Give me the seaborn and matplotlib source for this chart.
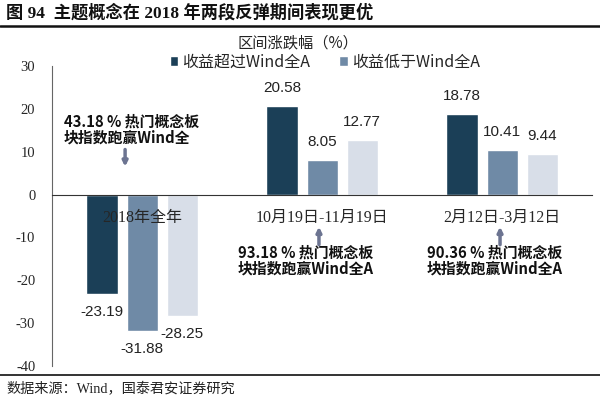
import matplotlib

matplotlib.use("Agg")
import matplotlib.pyplot as plt
import pandas as pd
import seaborn as sns
from matplotlib.lines import Line2D

periods = ["2018年全年", "10月19日-11月19日", "2月12日-3月12日"]
series = ["收益超过Wind全A", "收益低于Wind全A", "Wind全A"]
beat_values = [-23.19, 20.58, 18.78]
lag_values = [-31.88, 8.05, 10.41]
wind_values = [-28.25, 12.77, 9.44]
win_share = ["43.18", "93.18", "90.36"]
y_ticks = [-40, -30, -20, -10, 0, 10, 20, 30]

colors = ["#1b3f57", "#6f8aa6", "#d8dee8"]

sns.set_style("white")
plt.rcParams["font.family"] = ["Liberation Serif", "Noto Sans CJK SC", "DejaVu Sans"]
plt.rcParams["axes.unicode_minus"] = False
SANS = ["Liberation Sans", "Noto Sans CJK SC", "DejaVu Sans"]
CJK_SANS = ["Noto Sans CJK SC", "DejaVu Sans"]

df = pd.DataFrame({
    "period": periods * 3,
    "series": [s for s in series for _ in periods],
    "value": beat_values + lag_values + wind_values,
})

fig = plt.figure(figsize=(6, 3.99), dpi=100)
ax = fig.add_axes([0.0867, 0.0827, 0.9, 0.752])

sns.barplot(
    data=df, x="period", y="value", hue="series", order=periods, hue_order=series,
    palette=colors, width=0.667, gap=0.225, saturation=1, ax=ax, legend=False,
)

ax.set_axisbelow(False)  # category labels sit on top of the bars
ax.set_xlim(-0.5, 2.5)
ax.set_ylim(-40, 30)
ax.set_yticks(y_ticks)
ax.set_xlabel("")
ax.set_ylabel("")
ax.tick_params(axis="y", direction="out", length=6, width=0.8, color="#666666",
               labelsize=10.5, pad=6)
ax.tick_params(axis="x", length=0, labelsize=11.5, pad=11)
for spine in ["top", "right"]:
    ax.spines[spine].set_visible(False)
ax.spines["bottom"].set_position(("data", 0))
ax.spines["bottom"].set_color("#333333")
ax.spines["left"].set_color("#666666")
ax.spines["left"].set_linewidth(0.8)

for container in ax.containers:
    neg = container.datavalues.min() < 0
    ax.bar_label(container, fmt="%.2f", padding=8 if neg else 6, fontsize=11,
                 family=SANS, color="#222222")

ax.legend(ax.containers[:2], series[:2], ncol=2, loc="center",
          bbox_to_anchor=(0.505, 1.013), frameon=False, handlelength=0.55,
          handleheight=0.55, handletextpad=0.25, columnspacing=1.8,
          prop={"family": CJK_SANS, "size": 11.5})

fig.text(0.497, 0.892, "区间涨跌幅（%）", ha="center", va="center", family=CJK_SANS,
         fontsize=11, color="#222222")

# annotations with arrows
notes = [
    (-0.433, 15.2, -0.094, 10.5, 6.5),
    (0.533, -15.4, 0.983, -11.7, -7.5),
    (1.583, -15.4, 1.989, -11.7, -7.5),
]
for i, (tx, ty, ax_x, y0, y1) in enumerate(notes):
    tail = "" if i == 0 else "A"
    ax.text(tx, ty, f"{win_share[i]} % 热门概念板\n块指数跑赢Wind全{tail}", ha="left",
            va="center", family=CJK_SANS, fontweight="bold", fontsize=10.7,
            linespacing=1.05, color="#111111")
    ax.annotate("", xy=(ax_x, y1), xytext=(ax_x, y0),
                arrowprops=dict(arrowstyle="-|>", color="#6c7491", lw=2.5,
                                mutation_scale=7, shrinkA=0, shrinkB=0))

fig.text(0.01, 0.967, "图 94  主题概念在 2018 年两段反弹期间表现更优", ha="left",
         va="center", fontsize=12.4, fontweight="bold", color="#111111")
fig.add_artist(Line2D([0.0, 1.0], [0.935, 0.935], color="#111111", lw=1.8))
fig.add_artist(Line2D([0.0, 1.0], [0.06, 0.06], color="#111111", lw=1.2))
fig.text(0.01, 0.025, "数据来源：Wind，国泰君安证券研究", ha="left", va="center",
         fontsize=10.2, color="#222222")

fig.savefig("out.png", dpi=100)
